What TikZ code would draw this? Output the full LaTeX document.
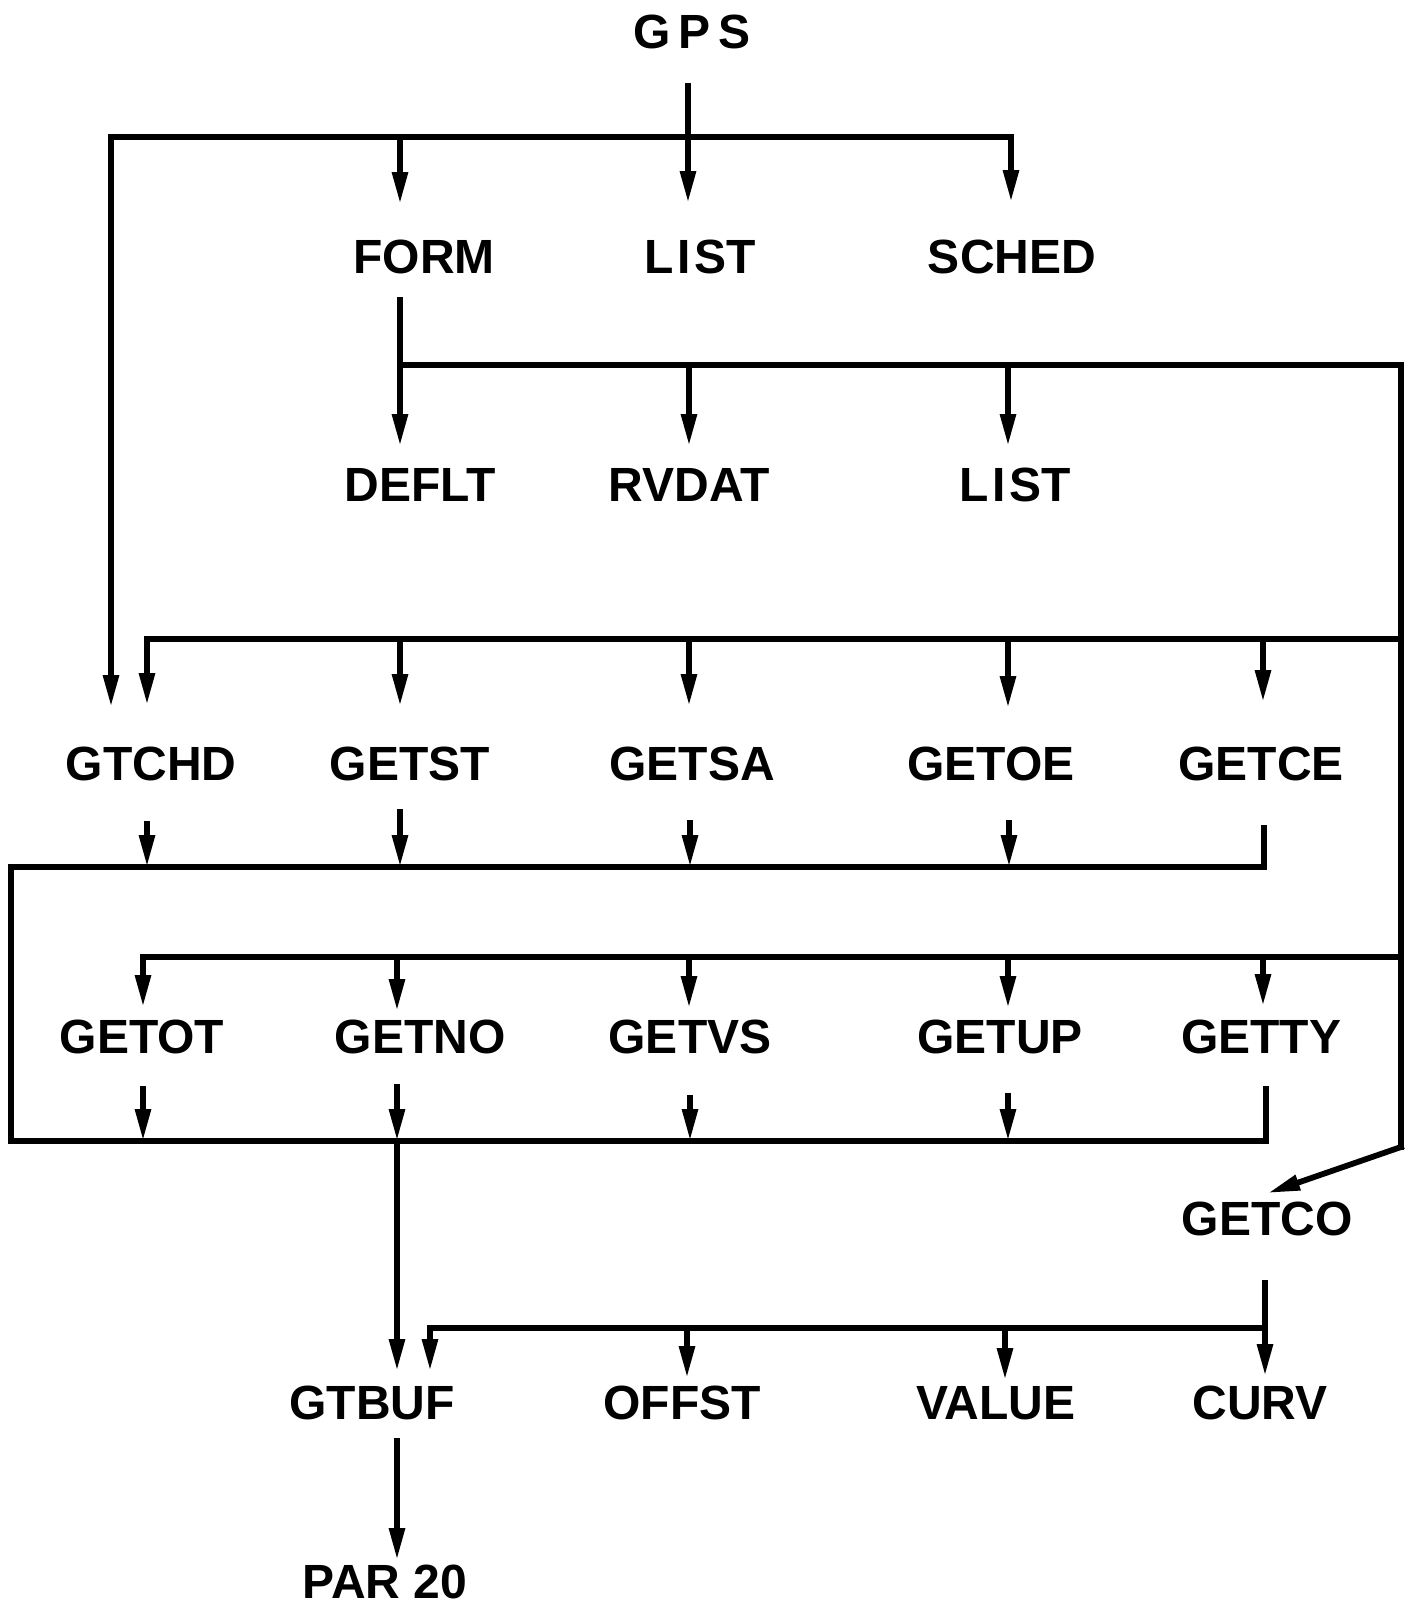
\documentclass[tikz,border=0pt]{standalone}
\usepackage{fontspec}
\setmainfont{Liberation Sans}
\usetikzlibrary{arrows.meta}
\begin{document}
\begin{tikzpicture}[x=0.5pt,y=-0.5pt,
  lbl/.style={font=\bfseries\fontsize{24}{24}\selectfont, inner sep=0pt},
  ln/.style={line width=2.9pt, line cap=rect, line join=miter},
  arr/.style={line width=2.9pt, line cap=butt, -{Triangle[length=16pt,width=7.5pt]}}]
\useasboundingbox[fill=white] (0,0) rectangle (1408,1608);
% text nodes
\node[lbl] (gps) at (692,32) {G\kern4pt P\kern4pt S};
\node[lbl] (form) at (424,257) {FORM};
\node[lbl] (list) at (700,257) {L\kern2pt I\kern2pt ST};
\node[lbl] (sched) at (1012,257) {SCHED};
\node[lbl] (deflt) at (420,485) {DEFLT};
\node[lbl] (rvdat) at (689,485) {RVDAT};
\node[lbl] (listb) at (1015,485) {L\kern2pt I\kern2pt ST};
\node[lbl] (gtchd) at (151,764) {GTCHD};
\node[lbl] (getst) at (410,764) {GETST};
\node[lbl] (getsa) at (692,764) {GETSA};
\node[lbl] (getoe) at (991,764) {GETOE};
\node[lbl] (getce) at (1261,764) {GETCE};
\node[lbl] (getot) at (142,1037) {GETOT};
\node[lbl] (getno) at (420,1037) {GETNO};
\node[lbl] (getvs) at (690,1037) {GETVS};
\node[lbl] (getup) at (1000,1037) {GETUP};
\node[lbl] (getty) at (1261,1037) {GETTY};
\node[lbl] (getco) at (1267,1219) {GETCO};
\node[lbl] (gtbuf) at (372,1403) {GTBUF};
\node[lbl] (offst) at (682,1403) {OFFST};
\node[lbl] (value) at (996,1403) {VALUE};
\node[lbl] (curv) at (1260,1403) {CURV};
\node[lbl] (par) at (385,1582) {PAR 20};
% junction coordinates
\coordinate (gpsB) at (688,83);
\coordinate (b1L) at (111,137);
\coordinate (b1F) at (400,137);
\coordinate (b1R) at (1011,137);
\coordinate (formB) at (400,297);
\coordinate (b2L) at (400,365);
\coordinate (b2M) at (689,365);
\coordinate (b2N) at (1008,365);
\coordinate (b2R) at (1401,365);
\coordinate (b3L) at (147,639);
\coordinate (b3a) at (400,639);
\coordinate (b3b) at (689,639);
\coordinate (b3c) at (1008,639);
\coordinate (b3d) at (1263,639);
\coordinate (b3R) at (1401,639);
\coordinate (b5L) at (143,957);
\coordinate (b5a) at (397,957);
\coordinate (b5b) at (689,957);
\coordinate (b5c) at (1008,957);
\coordinate (b5d) at (1263,957);
\coordinate (b5R) at (1401,957);
\coordinate (rB) at (1401,1147);
\coordinate (b4L) at (11,867);
\coordinate (b4R) at (1264,867);
\coordinate (b6L) at (11,1141);
\coordinate (b6R) at (1266,1141);
\coordinate (b6N) at (397,1141);
\coordinate (coB) at (1265,1280);
\coordinate (b7L) at (430,1328);
\coordinate (b7R) at (1265,1328);
% GPS level
\draw[arr] (gpsB) -- (688,203);
\draw[ln] (b1L) -- (b1R);
\draw[arr] (b1F) -- (400,204);
\draw[arr] (b1R) -- (1011,202);
\draw[arr] (b1L) -- (111,707);
% FORM level
\draw[arr] (formB) -- (400,446);
\draw[ln] (b2L) -- (b2R) -- (rB);
\draw[arr] (b2M) -- (689,446);
\draw[arr] (b2N) -- (1008,446);
\draw[arr, line cap=rect] (rB) -- (1268,1193);
% bus 3
\draw[ln] (b3L) -- (b3R);
\draw[arr] (b3L) -- (147,705);
\draw[arr] (b3a) -- (400,706);
\draw[arr] (b3b) -- (689,706);
\draw[arr] (b3c) -- (1008,708);
\draw[arr] (b3d) -- (1263,702);
% bus 4 / 6 loop
\draw[ln] (1264,828) -- (b4R) -- (b4L) -- (b6L) -- (b6R) -- (1266,1089);
\draw[arr] (147,821) -- (147,867);
\draw[arr] (400,809) -- (400,867);
\draw[arr] (690,820) -- (690,867);
\draw[arr] (1009,820) -- (1009,867);
% bus 5
\draw[ln] (b5L) -- (b5R);
\draw[arr] (b5L) -- (143,1007);
\draw[arr] (b5a) -- (397,1011);
\draw[arr] (b5b) -- (689,1008);
\draw[arr] (b5c) -- (1008,1008);
\draw[arr] (b5d) -- (1263,1006);
% row 4 to bus 6
\draw[arr] (143,1086) -- (143,1141);
\draw[arr] (397,1084) -- (b6N);
\draw[arr] (690,1095) -- (690,1141);
\draw[arr] (1008,1093) -- (1008,1141);
\draw[arr] (b6N) -- (397,1371);
% GETCO level
\draw[arr] (coB) -- (1265,1376);
\draw[ln] (b7L) -- (b7R);
\draw[arr] (b7L) -- (430,1371);
\draw[arr] (687,1328) -- (687,1378);
\draw[arr] (1005,1328) -- (1005,1380);
% GTBUF to PAR 20
\draw[arr] (397,1438) -- (397,1560);
\end{tikzpicture}
\end{document}
